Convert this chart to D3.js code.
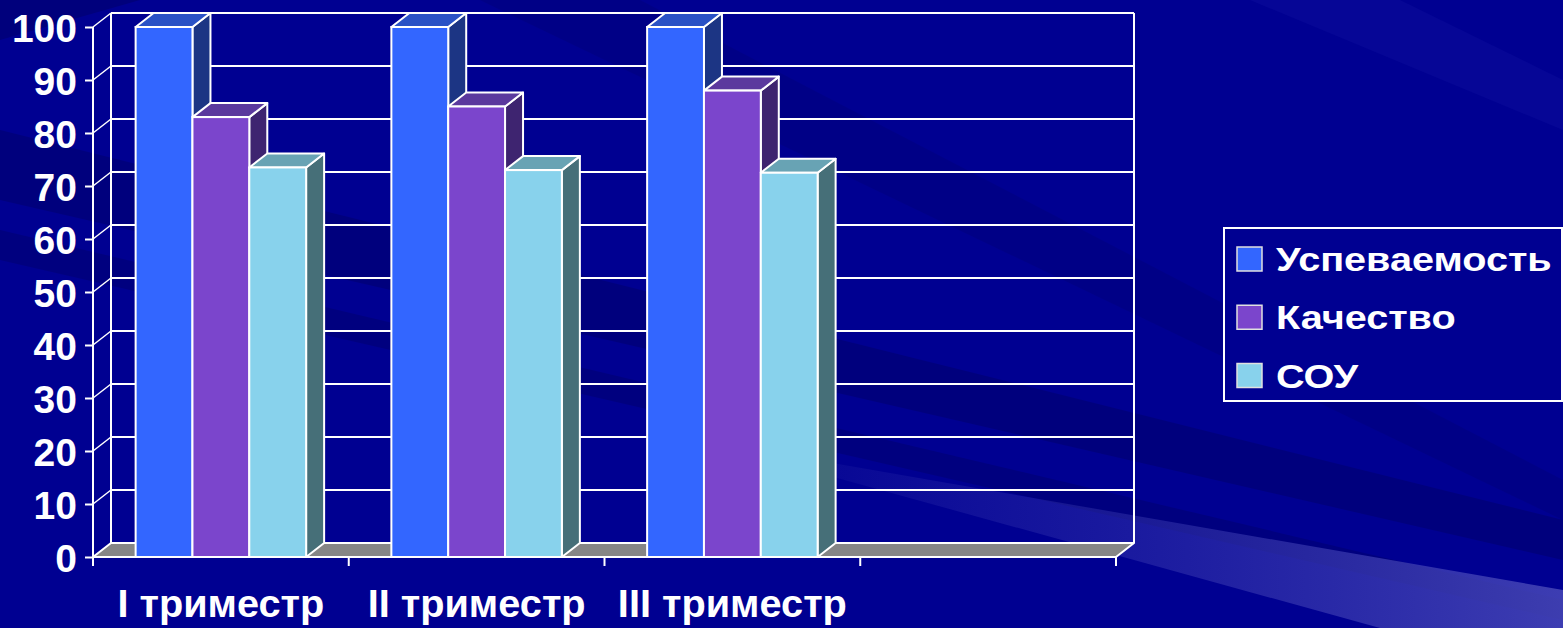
<!DOCTYPE html>
<html>
<head>
<meta charset="utf-8">
<script src="https://cdn.jsdelivr.net/npm/d3@7/dist/d3.min.js"></script>
<style>
html,body{margin:0;padding:0;background:#000091;overflow:hidden;}
svg{display:block;}
text{font-family:"Liberation Sans",Arial,sans-serif;fill:#fff;}
</style>
</head>
<body>
<svg id="chart" width="1563" height="628"></svg>
<script>
// ---- data ----
const categories = ["I триместр", "II триместр", "III триместр", ""];
const seriesNames = ["Успеваемость", "Качество", "СОУ"];
const uspevaemost = [100, 100, 100];
const kachestvo = [83, 85, 88];
const sou = [73.5, 73, 72.5];
const yTickValues = [0, 10, 20, 30, 40, 50, 60, 70, 80, 90, 100];

const seriesValues = [uspevaemost, kachestvo, sou];
const frontColors = ["#3366ff", "#7b45cc", "#88d2ec"];
const topColors   = ["#2a52c6", "#5b399e", "#68a3b4"];
const sideColors  = ["#1c3584", "#3e2470", "#466f78"];

const W = 1563, H = 628;
const svg = d3.select("#chart");

// ---- background ----
const defs = svg.append("defs");
const g1 = defs.append("linearGradient").attr("id","lightRay").attr("x1","0").attr("x2","1").attr("y1","0").attr("y2","0");
g1.append("stop").attr("offset","0").attr("stop-color","#3a3ab0").attr("stop-opacity",0);
g1.append("stop").attr("offset","0.5").attr("stop-color","#3a3ab0").attr("stop-opacity",0.45);
g1.append("stop").attr("offset","1").attr("stop-color","#4848b8").attr("stop-opacity",0.85);

svg.append("rect").attr("width",W).attr("height",H).attr("fill","#000091");
const bg = svg.append("g");
bg.append("polygon").attr("points","0,0 140,0 0,40").attr("fill","#00006e").attr("opacity",0.6);
bg.append("polygon").attr("points","0,130 0,200 1563,560 1563,520").attr("fill","#00006e").attr("opacity",0.55);
bg.append("polygon").attr("points","0,230 0,260 1563,620 1563,600").attr("fill","#00006e").attr("opacity",0.5);
bg.append("polygon").attr("points","480,0 640,0 1563,480 1563,520").attr("fill","#00007a").attr("opacity",0.45);
bg.append("polygon").attr("points","1250,0 1400,0 1563,80 1563,130").attr("fill","#1010a0").attr("opacity",0.35);
bg.append("polygon").attr("points","700,440 1563,590 1563,628 1380,628").attr("fill","url(#lightRay)");

// ---- geometry ----
const pLeft = 93, pRight = 1116, pBottom = 557, pTop = 27;
const dx = 18, dy = 14;

const y = d3.scaleLinear().domain([0, 100]).range([pBottom, pTop]);
const x0 = d3.scaleBand().domain(categories).range([pLeft, pRight]).padding(0);
const x1 = d3.scaleBand().domain(seriesNames).range([0, x0.bandwidth()]).paddingInner(0).paddingOuter(0.75);

const lineCol = "#ffffff";

const walls = svg.append("g");
walls.selectAll("line.grid").data(yTickValues).join("line")
  .attr("x1", pLeft + dx).attr("x2", pRight + dx)
  .attr("y1", d => y(d) - dy).attr("y2", d => y(d) - dy)
  .attr("stroke", lineCol).attr("stroke-width", 2);
walls.selectAll("line.diag").data(yTickValues.filter(d => d > 0)).join("line")
  .attr("x1", pLeft).attr("y1", d => y(d))
  .attr("x2", pLeft + dx).attr("y2", d => y(d) - dy)
  .attr("stroke", lineCol).attr("stroke-width", 1.5);
walls.append("line").attr("x1", pLeft + dx).attr("x2", pLeft + dx)
  .attr("y1", y(100) - dy).attr("y2", y(0) - dy).attr("stroke", lineCol).attr("stroke-width", 2);
walls.append("line").attr("x1", pRight + dx).attr("x2", pRight + dx)
  .attr("y1", y(100) - dy).attr("y2", y(0) - dy).attr("stroke", lineCol).attr("stroke-width", 2);

svg.append("polygon")
  .attr("points", [[pLeft, y(0)], [pRight, y(0)], [pRight + dx, y(0) - dy], [pLeft + dx, y(0) - dy]].map(p => p.join(",")).join(" "))
  .attr("fill", "#868686").attr("stroke", lineCol).attr("stroke-width", 2).attr("stroke-linejoin","round");

// ---- bars ----
const barData = [];
categories.forEach((c, ci) => {
  seriesNames.forEach((s, si) => {
    const v = seriesValues[si][ci];
    if (v !== undefined) barData.push({ c, s, si, v });
  });
});

const bars = svg.append("g");
barData.forEach(d => {
  const xl = x0(d.c) + x1(d.s);
  const xr = xl + x1.bandwidth();
  const yt = y(d.v), yb = y(0);
  const g = bars.append("g");
  g.append("polygon")
    .attr("points", [[xr, yb], [xr + dx, yb - dy], [xr + dx, yt - dy], [xr, yt]].map(p => p.join(",")).join(" "))
    .attr("fill", sideColors[d.si]).attr("stroke", lineCol).attr("stroke-width", 2).attr("stroke-linejoin","round");
  g.append("polygon")
    .attr("points", [[xl, yt], [xl + dx, yt - dy], [xr + dx, yt - dy], [xr, yt]].map(p => p.join(",")).join(" "))
    .attr("fill", topColors[d.si]).attr("stroke", lineCol).attr("stroke-width", 2).attr("stroke-linejoin","round");
  g.append("rect")
    .attr("x", xl).attr("y", yt).attr("width", xr - xl).attr("height", yb - yt)
    .attr("fill", frontColors[d.si]).attr("stroke", lineCol).attr("stroke-width", 2);
});

// ---- axes ----
const yAxis = d3.axisLeft(y).tickValues(yTickValues).tickSize(8).tickSizeOuter(0).tickPadding(8);
const ya = svg.append("g").attr("transform", `translate(${pLeft},0)`).call(yAxis);
ya.select(".domain").remove();
ya.selectAll(".tick line").attr("stroke", lineCol).attr("stroke-width", 2);
ya.selectAll(".tick text").attr("font-size", 39).attr("font-weight", "bold")
  .attr("fill", "#fff").attr("font-family", '"Liberation Sans", Arial, sans-serif').attr("dy", "0.37em");
svg.append("line").attr("x1", pLeft).attr("x2", pLeft).attr("y1", pTop).attr("y2", pBottom + 9)
  .attr("stroke", lineCol).attr("stroke-width", 2);

function stretch(sel, factor) {
  sel.each(function() {
    const n = this.getComputedTextLength();
    if (n > 0) d3.select(this).attr("textLength", n * factor).attr("lengthAdjust", "spacingAndGlyphs");
  });
}

const xa = svg.append("g");
xa.append("line").attr("x1", pLeft).attr("x2", pRight).attr("y1", pBottom).attr("y2", pBottom)
  .attr("stroke", lineCol).attr("stroke-width", 2);
const boundaries = categories.map(c => x0(c)).concat([pRight]);
xa.selectAll("line.xt").data(boundaries).join("line")
  .attr("x1", d => d).attr("x2", d => d).attr("y1", pBottom).attr("y2", pBottom + 9)
  .attr("stroke", lineCol).attr("stroke-width", 2);
const xl = xa.selectAll("text.xl").data(categories).join("text")
  .attr("x", d => x0(d) + x0.bandwidth() / 2).attr("y", 617)
  .attr("text-anchor", "middle").attr("font-size", 38).attr("font-weight", "bold")
  .text(d => d);
stretch(xl, 1.045);

// ---- legend ----
const lg = svg.append("g");
lg.append("rect").attr("x", 1224).attr("y", 228).attr("width", 338).attr("height", 173)
  .attr("fill", "#000091").attr("stroke", lineCol).attr("stroke-width", 2);
const legendY = d3.scalePoint().domain(seriesNames).range([259, 375.5]);
seriesNames.forEach((s, i) => {
  lg.append("rect").attr("x", 1237).attr("y", legendY(s) - 12).attr("width", 25).attr("height", 24)
    .attr("fill", frontColors[i]).attr("stroke", "#e0e0e0").attr("stroke-width", 1.5);
  const t = lg.append("text").attr("x", 1276).attr("y", legendY(s) + 12)
    .attr("font-size", 33).attr("font-weight", "bold").text(s);
  stretch(t, 1.2);
});
</script>
</body>
</html>
